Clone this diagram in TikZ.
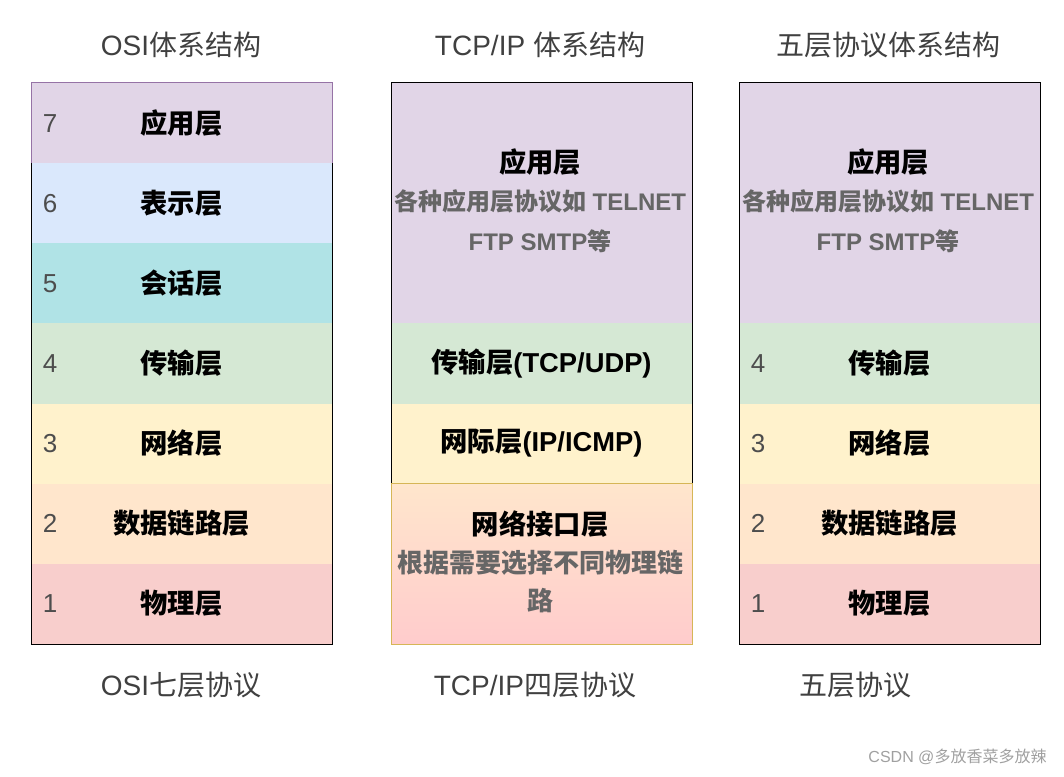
\documentclass[tikz,border=0pt]{standalone}
\usepackage{fontspec}
\setmainfont{Liberation Sans}
\newfontfamily\cjk{Noto Sans CJK SC}
\usetikzlibrary{positioning}

\definecolor{appfill}{RGB}{225,213,231}
\definecolor{presfill}{RGB}{218,232,252}
\definecolor{sessfill}{RGB}{176,227,230}
\definecolor{transfill}{RGB}{213,232,212}
\definecolor{netfill}{RGB}{255,242,204}
\definecolor{linkfill}{RGB}{255,230,204}
\definecolor{physfill}{RGB}{248,206,204}
\definecolor{ifbottom}{RGB}{255,204,204}
\definecolor{appline}{RGB}{150,115,166}
\definecolor{ifline}{RGB}{214,182,86}
\definecolor{titlegray}{RGB}{64,64,64}
\definecolor{numgray}{RGB}{77,77,77}
\definecolor{notegray}{RGB}{102,102,102}
\definecolor{markgray}{RGB}{160,160,160}

\tikzset{every picture/.style={line width=0.75pt}}
\tikzset{
  layer/.style={draw=none, anchor=north west, inner sep=0pt, minimum width=225pt, minimum height=60pt,
    font=\bfseries\fontsize{20.5}{24}\selectfont, text=black},
  bigLayer/.style={layer, minimum height=180pt},
  ifLayer/.style={layer, minimum height=120pt},
  layerNum/.style={anchor=west, inner sep=0pt, font=\fontsize{19.5}{24}\selectfont, text=numgray},
  layerName/.style={inner sep=0pt, font=\bfseries\fontsize{20.5}{24}\selectfont, text=black},
  layerNote/.style={inner sep=0pt, align=center, font=\bfseries\fontsize{18}{30}\selectfont, text=notegray},
  colTitle/.style={inner sep=0pt, font=\fontsize{21}{24}\selectfont, text=titlegray},
}

\begin{document}
\begin{tikzpicture}[x=0.75pt,y=0.75pt,yscale=-1,xscale=1]
	\useasboundingbox (0,0) rectangle (1064,777);
	
	% OSI column
	\node [layer, fill=appfill] (osi7) at (31,83) {\cjk 应用层};
	\node [layer, fill=presfill] (osi6) at (31,163) {\cjk 表示层};
	\node [layer, fill=sessfill] (osi5) at (31,243) {\cjk 会话层};
	\node [layer, fill=transfill] (osi4) at (31,323) {\cjk 传输层};
	\node [layer, fill=netfill] (osi3) at (31,403) {\cjk 网络层};
	\node [layer, fill=linkfill] (osi2) at (31,483) {\cjk 数据链路层};
	\node [layer, fill=physfill] (osi1) at (31,563) {\cjk 物理层};
	\draw [color=appline] (osi7.south west) -- (osi7.north west) -- (osi7.north east) -- (osi7.south east) ;
	\draw (osi6.north west) -- (osi1.south west) -- (osi1.south east) -- (osi6.north east) ;
	\foreach \n in {1,...,7}
	  \node [layerNum] at ([xshift=8.5pt]osi\n.west) {\n};
	
	% TCP/IP column
	\node [bigLayer, fill=appfill] (tcpApp) at (391,83) {};
	\node [layer, fill=transfill] (tcpTrans) at (391,323) {{\cjk 传输层}(TCP/UDP)};
	\node [layer, fill=netfill] (tcpNet) at (391,403) {{\cjk 网际层}(IP/ICMP)};
	\node [ifLayer, top color=linkfill, bottom color=ifbottom] (tcpIf) at (391,483) {};
	\draw (tcpNet.south west) -- (tcpApp.north west) -- (tcpApp.north east) -- (tcpNet.south east) ;
	\draw [color=ifline] (tcpIf.north west) rectangle (tcpIf.south east) ;
	% Text Node
	\node [layerName] (tcpAppName) at (540,162) {\cjk 应用层};
	\node [layerNote, below=10pt of tcpAppName] (tcpAppNote) {{\cjk 各种应用层协议如} TELNET\\FTP SMTP{\cjk 等}};
	% Text Node
	\node [layerName] (tcpIfName) at (540,524) {\cjk 网络接口层};
	\node [layerNote, font=\bfseries\fontsize{19.5}{28.5}\selectfont, below=9pt of tcpIfName] (tcpIfNote) {{\cjk 根据需要选择不同物理链}\\{\cjk 路}};
	
	% five layer column
	\node [bigLayer, fill=appfill] (fiveApp) at (739,83) {};
	\node [layer, fill=transfill] (five4) at (739,323) {\cjk 传输层};
	\node [layer, fill=netfill] (five3) at (739,403) {\cjk 网络层};
	\node [layer, fill=linkfill] (five2) at (739,483) {\cjk 数据链路层};
	\node [layer, fill=physfill] (five1) at (739,563) {\cjk 物理层};
	\draw (fiveApp.north west) rectangle (five1.south east) ;
	\foreach \n in {1,...,4}
	  \node [layerNum] at ([xshift=8.5pt]five\n.west) {\n};
	% Text Node
	\node [layerName] (fiveAppName) at (888,162) {\cjk 应用层};
	\node [layerNote, below=10pt of fiveAppName] (fiveAppNote) {{\cjk 各种应用层协议如} TELNET\\FTP SMTP{\cjk 等}};
	
	% Text Node
	\node [colTitle] (osiTitle) at (181,45) {OSI{\cjk 体系结构}};
	\node [colTitle] (tcpTitle) at (540,45) {TCP/IP {\cjk 体系结构}};
	\node [colTitle] (fiveTitle) at (888,45) {\cjk 五层协议体系结构};
	% Text Node
	\node [colTitle] (osiCaption) at (181,685) {OSI{\cjk 七层协议}};
	\node [colTitle] (tcpCaption) at (535,685) {TCP/IP{\cjk 四层协议}};
	\node [colTitle] (fiveCaption) at (855,685) {\cjk 五层协议};
	% Text Node
	\node [anchor=east, inner sep=0pt, font=\fontsize{12}{14}\selectfont, text=markgray] (csdnMark) at (1047,757) {CSDN @{\cjk 多放香菜多放辣}};
	
\end{tikzpicture}
\end{document}
